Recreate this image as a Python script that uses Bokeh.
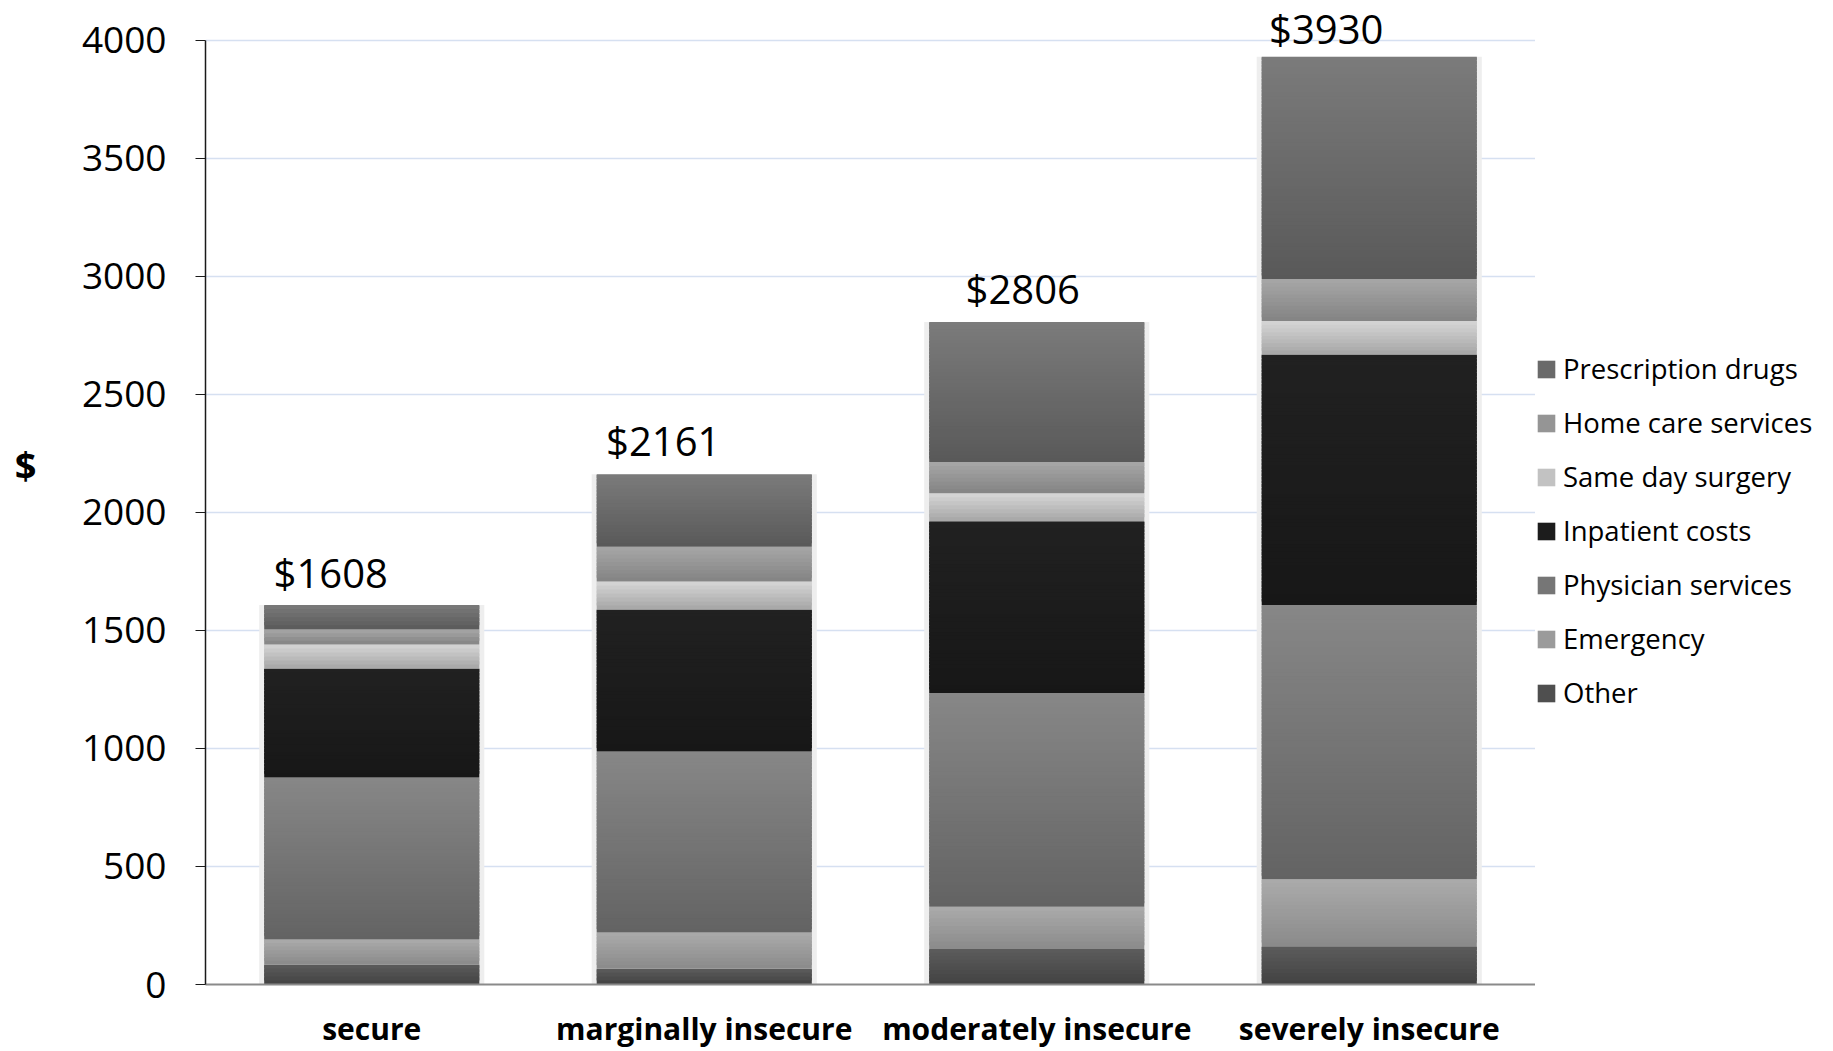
import numpy as np
from bokeh.plotting import figure
from bokeh.layouts import row
from bokeh.models import ColumnDataSource, Range1d, Legend, LegendItem, LabelSet, Label, FixedTicker
from bokeh.core.properties import value
from bokeh.embed import file_html
from bokeh.resources import INLINE

# ---------------- data ----------------
categories = ["secure", "marginally insecure", "moderately insecure", "severely insecure"]
series_names = ["Other", "Emergency", "Physician services", "Inpatient costs",
                "Same day surgery", "Home care services", "Prescription drugs"]
other = [85, 67, 150, 162]
emergency = [106, 153, 179, 284]
physician = [686, 767, 906, 1161]
inpatient = [462, 601, 727, 1062]
same_day = [101, 119, 119, 141]
home_care = [64, 147, 132, 178]
prescription = [104, 307, 593, 942]
totals = [1608, 2161, 2806, 3930]
total_labels = ["$1608", "$2161", "$2806", "$3930"]
y_ticks = [0, 500, 1000, 1500, 2000, 2500, 3000, 3500, 4000]

series_values = [other, emergency, physician, inpatient, same_day, home_care, prescription]

# ---------------- styles ----------------
# (bottom colour, top colour) for the vertical gradient of each series
grad = [((0x42, 0x42, 0x42), (0x5c, 0x5c, 0x5c)),
        ((0x8a, 0x8a, 0x8a), (0xab, 0xab, 0xab)),
        ((0x63, 0x63, 0x63), (0x87, 0x87, 0x87)),
        ((0x17, 0x17, 0x17), (0x21, 0x21, 0x21)),
        ((0xa6, 0xa6, 0xa6), (0xd6, 0xd6, 0xd6)),
        ((0x83, 0x83, 0x83), (0xa7, 0xa7, 0xa7)),
        ((0x59, 0x59, 0x59), (0x7b, 0x7b, 0x7b))]
legend_colors = ["#4f4f4f", "#9b9b9b", "#767676", "#1c1c1c", "#c2c2c2", "#959595", "#6a6a6a"]
BAR_W = 0.647
label_x_off = [-41, -41, -14, -43]
label_y_off = [17, 18, 18, 13]
Y_END = 4130          # headroom above the 4000 axis end so the top label is not clipped

FONT = "Open Sans"

p = figure(x_range=categories, y_range=Range1d(0, Y_END),
           width=1535, height=1051, output_backend="svg", toolbar_location=None,
           min_border_left=205, min_border_right=0, min_border_top=9, min_border_bottom=67)
p.outline_line_color = None
p.background_fill_color = "white"
p.border_fill_color = "white"

# shadow behind each stacked bar
p.vbar(x=categories, top=totals, bottom=0, width=BAR_W + 0.03,
       fill_color="#eeeeee", line_color=None)

def hexc(c):
    return "#%02x%02x%02x" % tuple(int(round(v)) for v in c)

bottoms = [0.0] * len(categories)
for s_idx, vals in enumerate(series_values):
    xs, b0, t0, cols = [], [], [], []
    cb, ct = grad[s_idx]
    for i, cat in enumerate(categories):
        b = bottoms[i]
        h = vals[i]
        n = max(2, int(h / 15))
        for k in range(n):
            f = (k + 0.5) / n
            col = tuple(cb[j] + (ct[j] - cb[j]) * f for j in range(3))
            y0 = b + h * k / n
            y1 = min(b + h * (k + 1.8) / n, b + h)
            xs.append(cat)
            b0.append(y0)
            t0.append(y1)
            cols.append(hexc(col))
        bottoms[i] = b + h
    src = ColumnDataSource(dict(x=xs, bottom=b0, top=t0, color=cols))
    p.vbar(x="x", bottom="bottom", top="top", width=BAR_W, source=src,
           fill_color="color", line_color=None)

# total labels
lab_src = ColumnDataSource(dict(x=categories, y=totals, text=total_labels,
                                xo=label_x_off, yo=label_y_off))
p.add_layout(LabelSet(x="x", y="y", text="text", source=lab_src, x_offset="xo", y_offset="yo",
                      text_align="center", text_baseline="alphabetic",
                      text_font=value(FONT), text_font_size="40px", text_color="black"))

# axes
p.yaxis.ticker = FixedTicker(ticks=y_ticks)
p.yaxis.bounds = (0, 4000)
p.yaxis.major_label_text_font = FONT
p.yaxis.major_label_text_font_size = "37px"
p.yaxis.major_label_text_color = "black"
p.yaxis.axis_line_color = "#1a1a1a"
p.yaxis.axis_line_width = 1.5
p.yaxis.major_tick_line_color = "#1a1a1a"
p.yaxis.major_tick_out = 10
p.yaxis.major_tick_in = 0
p.yaxis.minor_tick_line_color = None
p.yaxis.major_label_standoff = 29

p.xaxis.major_tick_line_color = None
p.xaxis.minor_tick_line_color = None
p.xaxis.axis_line_color = "#8a8a8a"
p.xaxis.axis_line_width = 2
p.xaxis.major_label_text_font = FONT
p.xaxis.major_label_text_font_style = "bold"
p.xaxis.major_label_text_font_size = "30px"
p.xaxis.major_label_text_color = "black"
p.xaxis.major_label_text_line_height = 1.0
p.xaxis.major_label_standoff = 17

p.xgrid.grid_line_color = None
p.ygrid.grid_line_color = "#d6e0f1"
p.ygrid.grid_line_width = 1.5
p.ygrid.bounds = (0, 4000)

# "$" axis title, horizontal, placed in the left panel
p.add_layout(Label(x=-31, y=2200, x_units="screen", y_units="data", text="$",
                   text_align="center", text_baseline="middle",
                   text_font=FONT, text_font_style="bold", text_font_size="38px",
                   text_color="black"), "left")

# ---------------- legend panel ----------------
pl = figure(width=298, height=1051, x_range=Range1d(0, 1), y_range=Range1d(0, 1),
            output_backend="svg", toolbar_location=None,
            x_axis_type=None, y_axis_type=None,
            min_border_left=0, min_border_right=0, min_border_top=0, min_border_bottom=0)
pl.outline_line_color = None
pl.xgrid.grid_line_color = None
pl.ygrid.grid_line_color = None
pl.background_fill_color = "white"
pl.border_fill_color = "white"

# legend proxies (kept outside the visible range; only their legend swatches show)
leg_renderers = []
for i, name in enumerate(series_names):
    r = pl.rect(x=[-5], y=[-5], width=0.1, height=0.1, fill_color=legend_colors[i], line_color=None)
    leg_renderers.append(r)

items = [LegendItem(label=series_names[i], renderers=[leg_renderers[i]])
         for i in reversed(range(len(series_names)))]
legend = Legend(items=items, location=(0, 273), orientation="vertical",
                glyph_width=22, glyph_height=22, label_standoff=6, spacing=17,
                padding=0, margin=0, border_line_color=None, background_fill_alpha=0,
                label_text_font=FONT, label_text_font_size="27.5px", label_text_color="black")
pl.add_layout(legend, "center")

layout = row(p, pl, spacing=0)
open("out.html", "w").write(file_html(layout, INLINE))
